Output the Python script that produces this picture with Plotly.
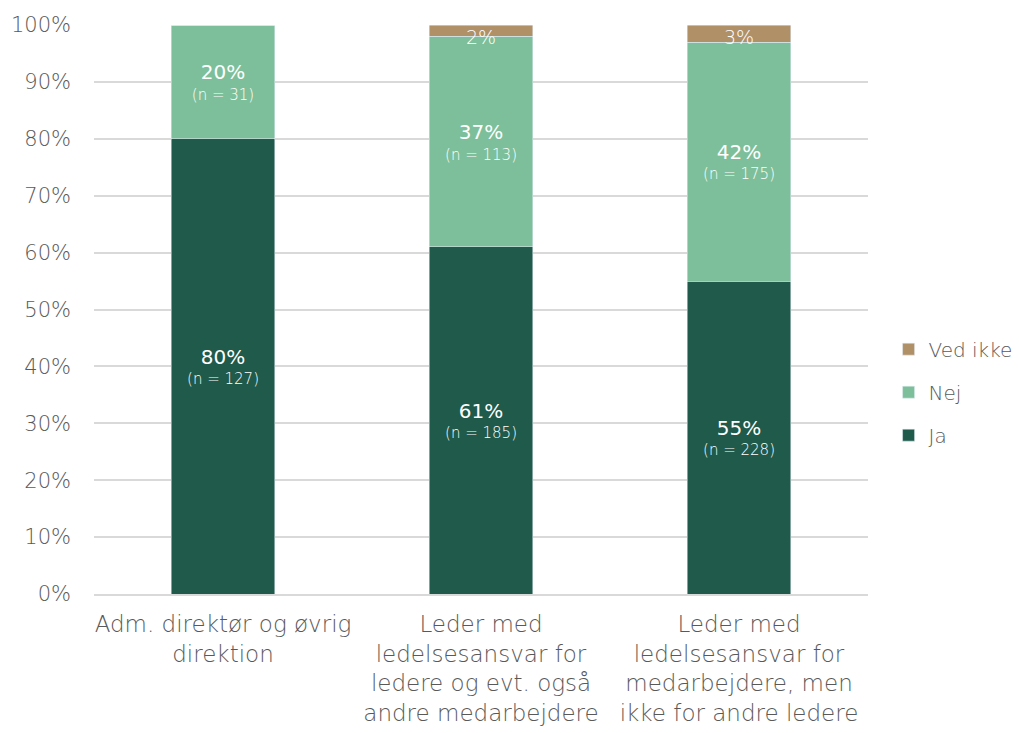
import plotly.graph_objects as go

categories = [
    "Adm. direktør og øvrig<br>direktion",
    "Leder med<br>ledelsesansvar for<br>ledere og evt. også<br>andre medarbejdere",
    "Leder med<br>ledelsesansvar for<br>medarbejdere, men<br>ikke for andre ledere",
]
ja_pct = [80, 61, 55]
ja_n = [127, 185, 228]
nej_pct = [20, 37, 42]
nej_n = [31, 113, 175]
vedikke_pct = [0, 2, 3]
y_ticks = list(range(0, 101, 10))
y_ticktext = [f"{t}%" for t in y_ticks]

FONT = "DejaVu Sans"
GREY = "#595959"


def seg_text(pcts, ns):
    return [
        f"<span style='font-size:20px;font-weight:500'>{p}%</span><br>"
        f"<span style='font-size:15px'>(n = {n})</span>"
        for p, n in zip(pcts, ns)
    ]


fig = go.Figure()
fig.add_trace(go.Bar(
    name="Ja", x=categories, y=ja_pct, marker_color="#1f5a4b",
    text=seg_text(ja_pct, ja_n), textposition="inside",
    insidetextanchor="middle", textangle=0,
    textfont=dict(family=FONT, size=16, color="white", weight=200),
    legendgroup="ja", legendrank=3, hoverinfo="skip",
))
fig.add_trace(go.Bar(
    name="Nej", x=categories, y=nej_pct, marker_color="#7dbf9a",
    text=seg_text(nej_pct, nej_n), textposition="inside",
    insidetextanchor="middle", textangle=0,
    textfont=dict(family=FONT, size=16, color="white", weight=200),
    legendgroup="nej", legendrank=2, hoverinfo="skip",
))
fig.add_trace(go.Bar(
    name="Ved ikke", x=categories, y=vedikke_pct, marker_color="#b09067",
    textposition="none", legendgroup="vedikke", legendrank=1,
    hoverinfo="skip",
))

# small "Ved ikke" shares are labelled just under the top of the bar
for cat, v in zip(categories, vedikke_pct):
    if v > 0:
        fig.add_annotation(
            x=cat, y=100, yref="y", text=f"{v}%", showarrow=False,
            yanchor="top", yshift=1,
            font=dict(family=FONT, size=19, color="white", weight=200),
        )

fig.update_layout(
    width=1019, height=733,
    barmode="stack", bargap=0.6,
    plot_bgcolor="white", paper_bgcolor="white",
    margin=dict(l=94, r=151, t=25, b=139),
    font=dict(family=FONT, color=GREY),
    legend=dict(
        xref="container", x=0.872, y=0.465, xanchor="left", yanchor="middle",
        yref="container",
        traceorder="grouped", tracegroupgap=14,
        font=dict(family=FONT, size=20, color=GREY, weight=200),
        itemwidth=30,
    ),
    xaxis=dict(
        showline=True, linecolor="#d9d9d9", linewidth=2,
        tickfont=dict(family=FONT, size=23, color=GREY, weight=200),
        ticks="", ticklabelstandoff=8, automargin=False,
    ),
    yaxis=dict(
        range=[0, 100], tickmode="array", tickvals=y_ticks,
        ticktext=y_ticktext, showgrid=True, gridcolor="#d9d9d9",
        gridwidth=2, zeroline=False, automargin=False,
        tickfont=dict(family=FONT, size=21, color=GREY, weight=200),
        ticklabelstandoff=22,
    ),
)

fig.write_html("out.html")
